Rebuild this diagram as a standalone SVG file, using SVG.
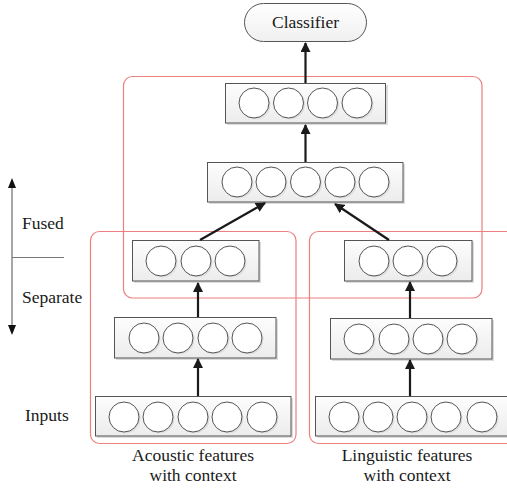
<svg xmlns="http://www.w3.org/2000/svg" width="507" height="489" viewBox="0 0 507 489">
<style>
text{font-family:"Liberation Serif","Times New Roman",serif;font-size:17.5px;fill:#1a1a1a}
.red{fill:none;stroke:#ec8080;stroke-width:1.2}
.box{fill:url(#bg);stroke:#555;stroke-width:1}
.bsh{fill:#dcdcdc}
.c{fill:#fff;stroke:#555;stroke-width:1}
.cs{fill:#dedede}
.con{stroke:#1a1a1a;stroke-width:2.2;fill:none}
</style>
<defs>
<linearGradient id="bg" x1="0" y1="0" x2="0" y2="1"><stop offset="0" stop-color="#fdfdfd"/><stop offset="1" stop-color="#ececec"/></linearGradient>
<linearGradient id="pg" x1="0" y1="0" x2="0" y2="1"><stop offset="0" stop-color="#ffffff"/><stop offset="1" stop-color="#f0f0f0"/></linearGradient>
<marker id="ah" markerWidth="10" markerHeight="10" viewBox="0 0 10 10" refX="9" refY="5" orient="auto" markerUnits="userSpaceOnUse"><path d="M0,0 L10,5 L0,10 Z" fill="#1a1a1a"/></marker>
</defs>

<g id="regions">
<rect class="red" x="123.5" y="76.5" width="358.5" height="221.5" rx="9"/>
<rect class="red" x="90.5" y="231.5" width="205.5" height="212" rx="9"/>
<rect class="red" x="309.5" y="231.5" width="210" height="212" rx="9"/>
</g>

<g id="axis">
<line x1="12" y1="188" x2="12" y2="327" stroke="#8a8a8a" stroke-width="1.5"/>
<path d="M12,178 L16,188 L8,188 Z" fill="#111"/>
<path d="M12,335 L16,325 L8,325 Z" fill="#111"/>
<line x1="12" y1="257.5" x2="64" y2="257.5" stroke="#777" stroke-width="1"/>
<text x="22" y="229" font-family="Liberation Serif, serif">Fused</text>
<text x="22" y="303" font-family="Liberation Serif, serif">Separate</text>
<text x="25" y="421" font-family="Liberation Serif, serif">Inputs</text>
</g>

<g id="classifier">
<rect x="244.5" y="3.5" width="122" height="38" rx="19" fill="url(#pg)" stroke="#555" stroke-width="1"/>
<text x="305.5" y="28" text-anchor="middle" font-size="18.5" font-family="Liberation Serif, serif">Classifier</text>
</g>

<g id="fused-top">
<rect class="bsh" x="227" y="85" width="161" height="40"/>
<rect class="box" x="225.5" y="83.5" width="160" height="39.5"/>
<circle class="cs" cx="255.5" cy="104.5" r="15"/><circle class="cs" cx="290" cy="104.5" r="15"/><circle class="cs" cx="324" cy="104.5" r="15"/><circle class="cs" cx="358.5" cy="104.5" r="15"/>
<circle class="c" cx="254" cy="103" r="15"/><circle class="c" cx="288.5" cy="103" r="15"/><circle class="c" cx="322.5" cy="103" r="15"/><circle class="c" cx="357" cy="103" r="15"/>
</g>

<g id="fused-mid">
<rect class="bsh" x="209" y="164" width="196" height="40"/>
<rect class="box" x="207.5" y="162.5" width="195.5" height="39.5"/>
<circle class="cs" cx="238.5" cy="183.5" r="15"/><circle class="cs" cx="272.5" cy="183.5" r="15"/><circle class="cs" cx="307" cy="183.5" r="15"/><circle class="cs" cx="341.5" cy="183.5" r="15"/><circle class="cs" cx="375.5" cy="183.5" r="15"/>
<circle class="c" cx="237" cy="182" r="15"/><circle class="c" cx="271" cy="182" r="15"/><circle class="c" cx="305.5" cy="182" r="15"/><circle class="c" cx="340" cy="182" r="15"/><circle class="c" cx="374" cy="182" r="15"/>
</g>

<g id="sep-left-top">
<rect class="bsh" x="134" y="242" width="127" height="41"/>
<rect class="box" x="132.5" y="240.5" width="126.5" height="40.5"/>
<circle class="cs" cx="162.5" cy="262.5" r="15"/><circle class="cs" cx="197.5" cy="262.5" r="15"/><circle class="cs" cx="231.5" cy="262.5" r="15"/>
<circle class="c" cx="161" cy="261" r="15"/><circle class="c" cx="196" cy="261" r="15"/><circle class="c" cx="230" cy="261" r="15"/>
</g>

<g id="sep-right-top">
<rect class="bsh" x="346" y="242" width="128" height="41"/>
<rect class="box" x="344.5" y="240.5" width="127.5" height="40.5"/>
<circle class="cs" cx="375.5" cy="262.5" r="15"/><circle class="cs" cx="409.5" cy="262.5" r="15"/><circle class="cs" cx="443.5" cy="262.5" r="15"/>
<circle class="c" cx="374" cy="261" r="15"/><circle class="c" cx="408" cy="261" r="15"/><circle class="c" cx="442" cy="261" r="15"/>
</g>

<g id="sep-left-mid">
<rect class="bsh" x="116" y="319" width="162" height="41"/>
<rect class="box" x="114.5" y="317.5" width="161.5" height="40.5"/>
<circle class="cs" cx="145.5" cy="339.5" r="15"/><circle class="cs" cx="179.5" cy="339.5" r="15"/><circle class="cs" cx="214.5" cy="339.5" r="15"/><circle class="cs" cx="248.5" cy="339.5" r="15"/>
<circle class="c" cx="144" cy="338" r="15"/><circle class="c" cx="178" cy="338" r="15"/><circle class="c" cx="213" cy="338" r="15"/><circle class="c" cx="247" cy="338" r="15"/>
</g>

<g id="sep-right-mid">
<rect class="bsh" x="332" y="320" width="162" height="41"/>
<rect class="box" x="330.5" y="318.5" width="161.5" height="40.5"/>
<circle class="cs" cx="360.5" cy="340.5" r="15"/><circle class="cs" cx="395.5" cy="340.5" r="15"/><circle class="cs" cx="429.5" cy="340.5" r="15"/><circle class="cs" cx="463.5" cy="340.5" r="15"/>
<circle class="c" cx="359" cy="339" r="15"/><circle class="c" cx="394" cy="339" r="15"/><circle class="c" cx="428" cy="339" r="15"/><circle class="c" cx="462" cy="339" r="15"/>
</g>

<g id="input-left">
<rect class="bsh" x="97" y="398" width="196" height="40"/>
<rect class="box" x="95.5" y="396.5" width="195.5" height="39.5"/>
<circle class="cs" cx="125.5" cy="418.5" r="15"/><circle class="cs" cx="159.5" cy="418.5" r="15"/><circle class="cs" cx="194.5" cy="418.5" r="15"/><circle class="cs" cx="228.5" cy="418.5" r="15"/><circle class="cs" cx="263.5" cy="418.5" r="15"/>
<circle class="c" cx="124" cy="417" r="15"/><circle class="c" cx="158" cy="417" r="15"/><circle class="c" cx="193" cy="417" r="15"/><circle class="c" cx="227" cy="417" r="15"/><circle class="c" cx="262" cy="417" r="15"/>
</g>

<g id="input-right">
<rect class="bsh" x="317" y="398" width="196" height="40"/>
<rect class="box" x="315.5" y="396.5" width="195.5" height="39.5"/>
<circle class="cs" cx="345.5" cy="418.5" r="15"/><circle class="cs" cx="379.5" cy="418.5" r="15"/><circle class="cs" cx="413.5" cy="418.5" r="15"/><circle class="cs" cx="447.5" cy="418.5" r="15"/><circle class="cs" cx="483.5" cy="418.5" r="15"/>
<circle class="c" cx="344" cy="417" r="15"/><circle class="c" cx="378" cy="417" r="15"/><circle class="c" cx="412" cy="417" r="15"/><circle class="c" cx="446" cy="417" r="15"/><circle class="c" cx="482" cy="417" r="15"/>
</g>

<g id="captions">
<text x="193" y="461" text-anchor="middle" font-family="Liberation Serif, serif">Acoustic features</text>
<text x="193" y="481" text-anchor="middle" font-family="Liberation Serif, serif">with context</text>
<text x="407" y="461" text-anchor="middle" font-family="Liberation Serif, serif">Linguistic features</text>
<text x="407" y="481" text-anchor="middle" font-family="Liberation Serif, serif">with context</text>
</g>

<g id="connectors">
<line class="con" x1="305.5" y1="83" x2="305.5" y2="43" marker-end="url(#ah)"/>
<line class="con" x1="305.5" y1="162" x2="305.5" y2="125" marker-end="url(#ah)"/>
<line class="con" x1="200" y1="240" x2="265" y2="203" marker-end="url(#ah)"/>
<line class="con" x1="389" y1="240" x2="335" y2="204" marker-end="url(#ah)"/>
<line class="con" x1="198" y1="317" x2="198" y2="283" marker-end="url(#ah)"/>
<line class="con" x1="198" y1="396" x2="198" y2="359" marker-end="url(#ah)"/>
<line class="con" x1="410" y1="318" x2="410" y2="282" marker-end="url(#ah)"/>
<line class="con" x1="410" y1="396" x2="410" y2="360" marker-end="url(#ah)"/>
</g>
</svg>
